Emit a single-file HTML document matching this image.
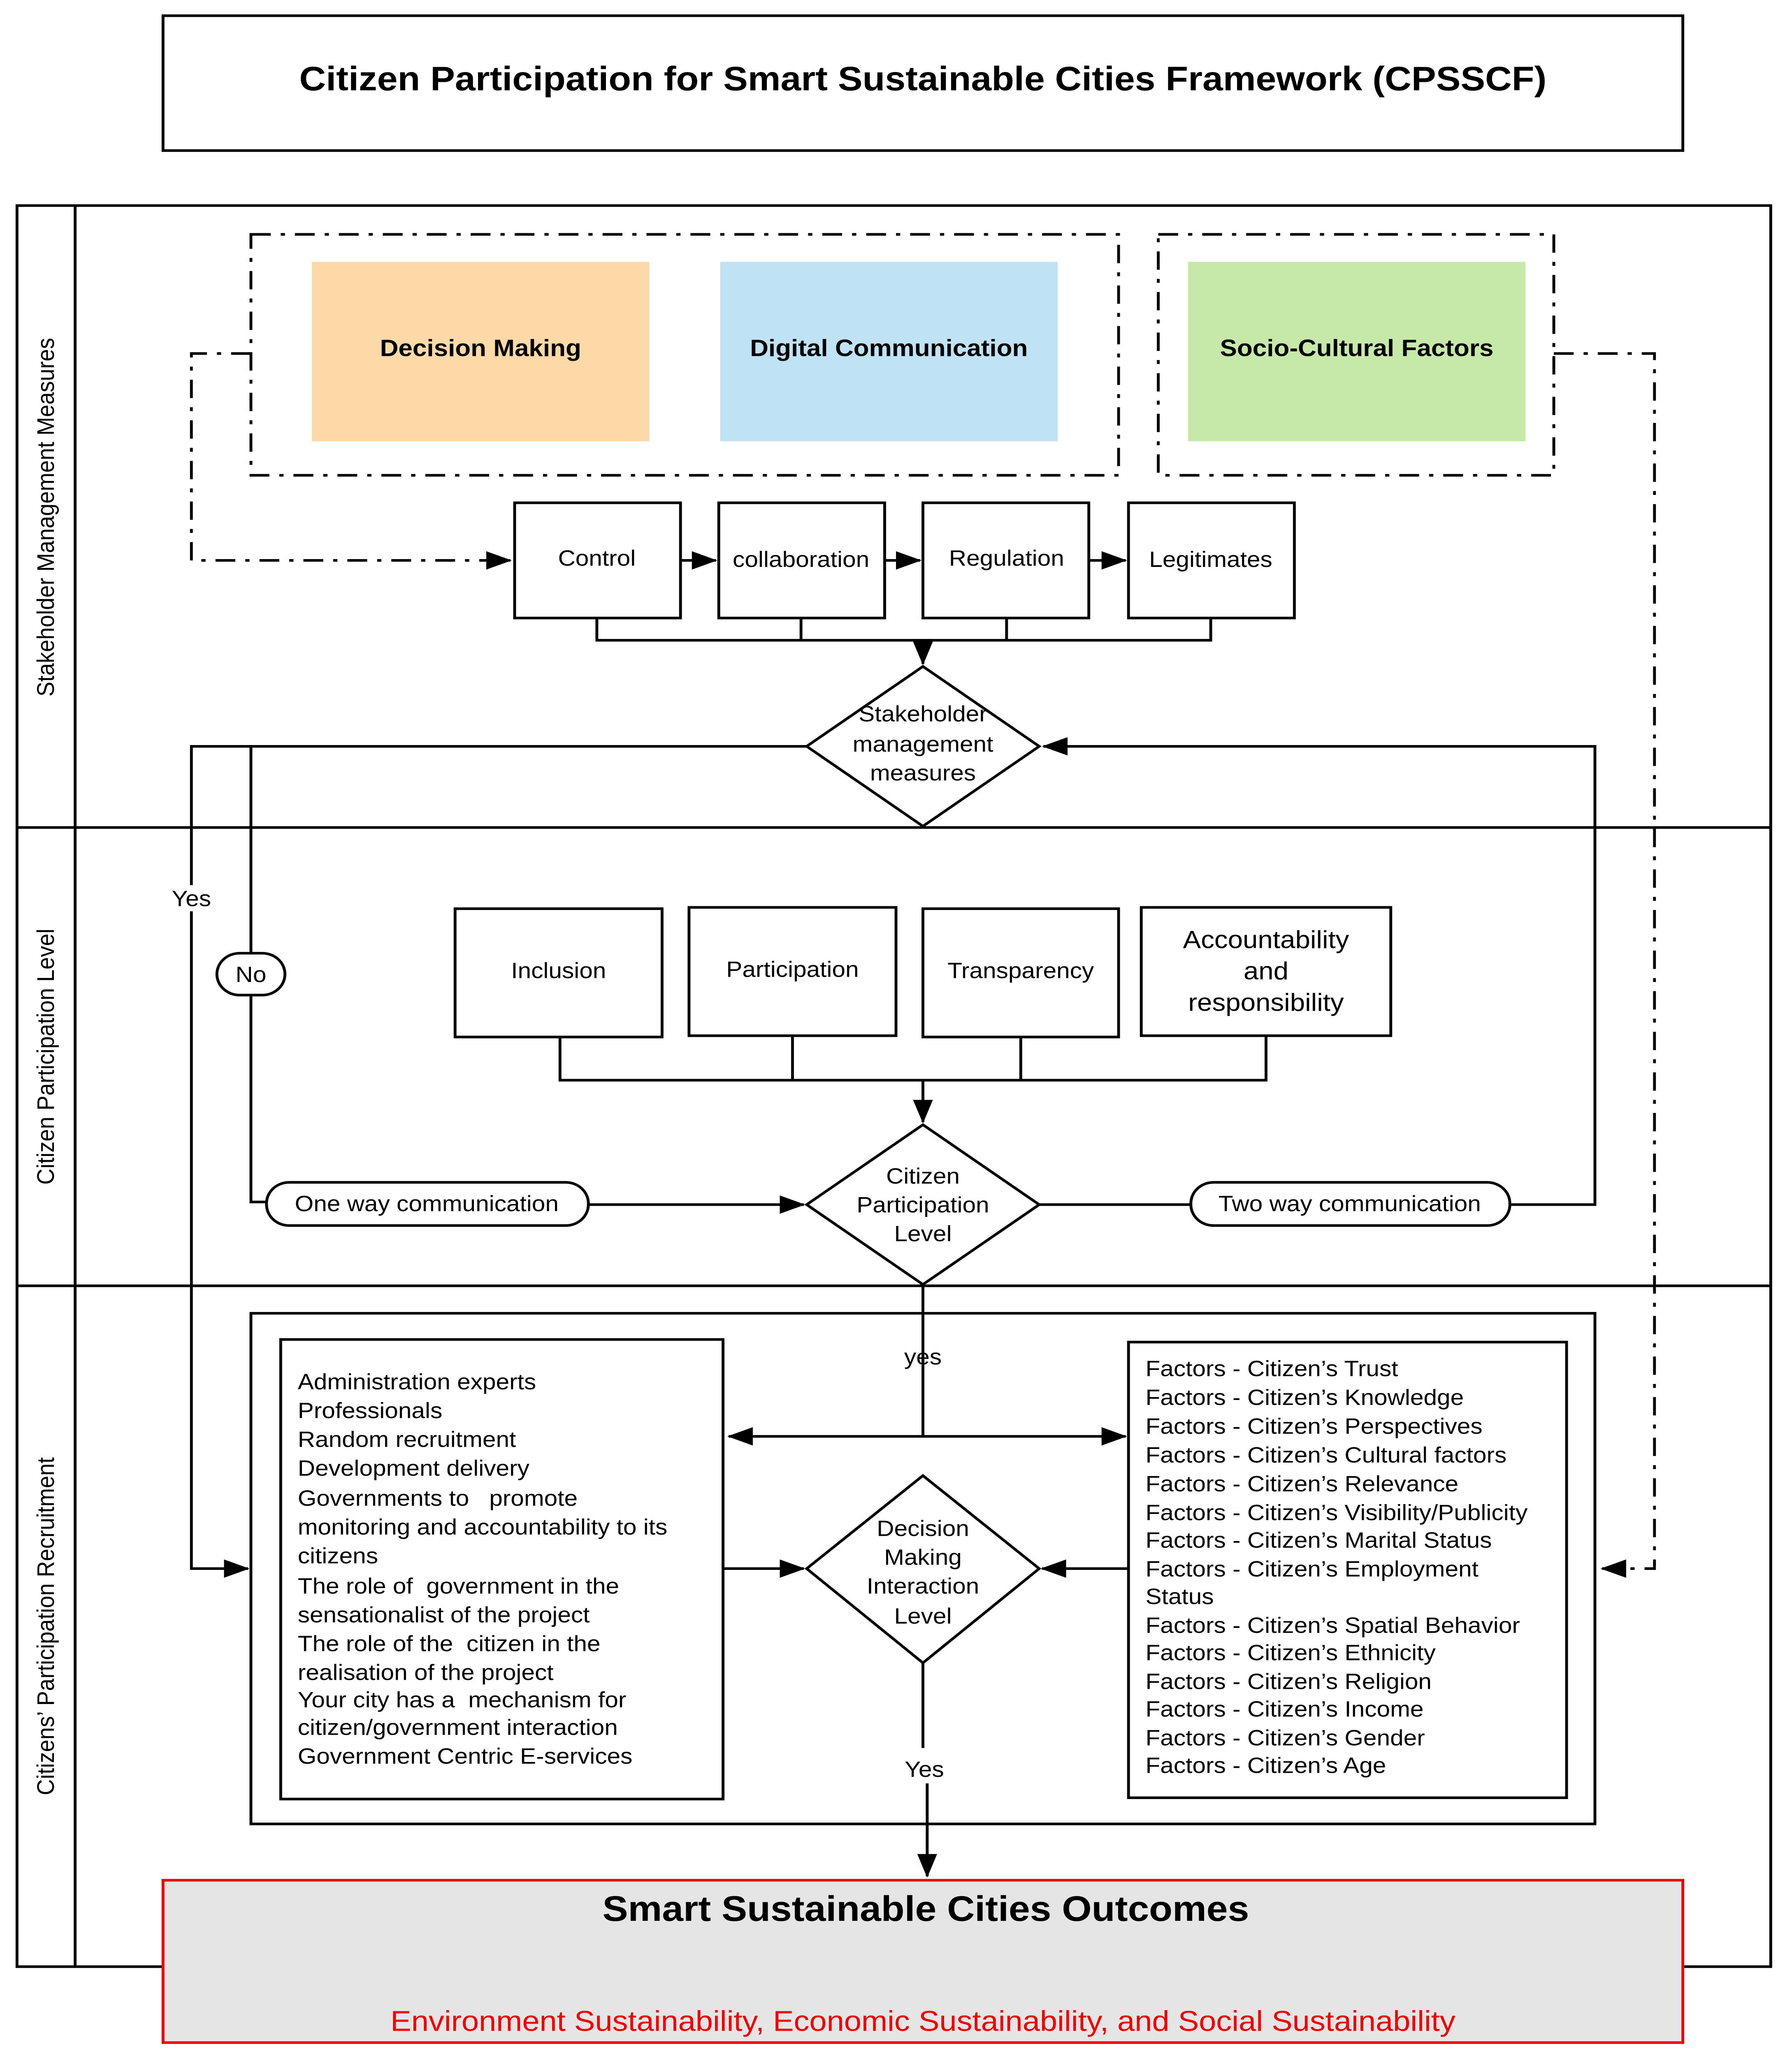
<!DOCTYPE html>
<html><head><meta charset="utf-8"><style>
html,body{margin:0;padding:0;background:#fff;width:100%;height:100%;overflow:hidden;}
svg{display:block;position:absolute;left:0;top:0;width:100vw;height:100vh;}
text{font-family:"Liberation Sans",sans-serif;fill:#000;}
</style></head><body>
<svg viewBox="0 0 1264 1571" preserveAspectRatio="none" xmlns="http://www.w3.org/2000/svg">
<defs>
<marker id="b" markerWidth="18" markerHeight="14" refX="17" refY="7" orient="auto" markerUnits="userSpaceOnUse" viewBox="0 0 18 14">
<path d="M0,0 L18,7 L0,14 z" fill="#000"/></marker>
</defs>
<rect width="1264" height="1571" fill="#fff"/>
<rect x="115" y="12" width="1072" height="103" fill="none" stroke="#000" stroke-width="2"/>
<text x="651" y="69" font-size="26" font-weight="bold" text-anchor="middle">Citizen Participation for Smart Sustainable Cities Framework (CPSSCF)</text>
<rect x="12" y="157" width="1237" height="1345" fill="none" stroke="#000" stroke-width="2"/>
<line x1="53" y1="157" x2="53" y2="1502" stroke="#000" stroke-width="2"/>
<line x1="12" y1="632" x2="1249" y2="632" stroke="#000" stroke-width="2"/>
<line x1="12" y1="982" x2="1249" y2="982" stroke="#000" stroke-width="2"/>
<text transform="translate(38,395) rotate(-90)" font-size="17" text-anchor="middle">Stakeholder Management Measures</text>
<text transform="translate(38,807) rotate(-90)" font-size="17" text-anchor="middle">Citizen Participation Level</text>
<text transform="translate(38,1242) rotate(-90)" font-size="17" text-anchor="middle">Citizens’ Participation Recruitment</text>
<g fill="none" stroke="#000" stroke-width="2" stroke-dasharray="14 7 3 7">
<rect x="177" y="179" width="612" height="184"/>
<rect x="817" y="179" width="279" height="184"/>
<polyline points="177,270 135,270 135,428 360,428" marker-end="url(#b)"/>
<polyline points="1096,270 1167,270 1167,1198 1130,1198" marker-end="url(#b)"/>
</g>
<rect x="220" y="200" width="238" height="137" fill="#fdd9a8"/>
<rect x="508" y="200" width="238" height="137" fill="#c0e2f5"/>
<rect x="838" y="200" width="238" height="137" fill="#c6e8a8"/>
<text x="339" y="272" font-size="18" font-weight="bold" text-anchor="middle">Decision Making</text>
<text x="627" y="272" font-size="18" font-weight="bold" text-anchor="middle">Digital Communication</text>
<text x="957" y="272" font-size="18" font-weight="bold" text-anchor="middle">Socio-Cultural Factors</text>
<g fill="#fff" stroke="#000" stroke-width="2">
<rect x="363" y="384" width="117" height="88"/>
<rect x="507" y="384" width="117" height="88"/>
<rect x="651" y="384" width="117" height="88"/>
<rect x="796" y="384" width="117" height="88"/>
</g>
<g font-size="17" text-anchor="middle">
<text x="421" y="432">Control</text>
<text x="565" y="433">collaboration</text>
<text x="710" y="432">Regulation</text>
<text x="854" y="433">Legitimates</text>
</g>
<g fill="none" stroke="#000" stroke-width="2">
<line x1="480" y1="428" x2="505" y2="428" marker-end="url(#b)"/>
<line x1="624" y1="428" x2="649" y2="428" marker-end="url(#b)"/>
<line x1="768" y1="428" x2="794" y2="428" marker-end="url(#b)"/>
<polyline points="421,472 421,489 854,489 854,472"/>
<line x1="565" y1="472" x2="565" y2="489"/>
<line x1="710" y1="472" x2="710" y2="489"/>
<line x1="651" y1="489" x2="651" y2="507" marker-end="url(#b)"/>
<polygon points="651,509 733,570 651,631 569,570" fill="#fff"/>
<polyline points="569,570 135,570 135,1198 175,1198" marker-end="url(#b)"/>
<polyline points="177,570 177,918 190,918"/>
<line x1="415" y1="920" x2="567" y2="920" marker-end="url(#b)"/>
<polyline points="1065,920 1125,920 1125,570 736,570" marker-end="url(#b)"/>
<line x1="733" y1="920" x2="840" y2="920"/>
</g>
<g font-size="17" text-anchor="middle">
<text x="651" y="551">Stakeholder</text>
<text x="651" y="574">management</text>
<text x="651" y="596">measures</text>
</g>
<rect x="118" y="676" width="34" height="20" fill="#fff"/>
<text x="135" y="692" font-size="17" text-anchor="middle">Yes</text>
<rect x="153" y="728" width="48" height="32" rx="16" fill="#fff" stroke="#000" stroke-width="2"/>
<text x="177" y="750" font-size="17" text-anchor="middle">No</text>
<rect x="188" y="903" width="227" height="33" rx="16" fill="#fff" stroke="#000" stroke-width="2"/>
<text x="301" y="925" font-size="17" text-anchor="middle">One way communication</text>
<rect x="840" y="903" width="225" height="33" rx="16" fill="#fff" stroke="#000" stroke-width="2"/>
<text x="952" y="925" font-size="17" text-anchor="middle">Two way communication</text>
<g fill="#fff" stroke="#000" stroke-width="2">
<rect x="321" y="694" width="146" height="98"/>
<rect x="486" y="693" width="146" height="98"/>
<rect x="651" y="694" width="138" height="98"/>
<rect x="805" y="693" width="176" height="98"/>
</g>
<g font-size="17" text-anchor="middle">
<text x="394" y="747">Inclusion</text>
<text x="559" y="746">Participation</text>
<text x="720" y="747">Transparency</text>
<text x="893" y="724" font-size="19">Accountability</text>
<text x="893" y="748" font-size="19">and</text>
<text x="893" y="772" font-size="19">responsibility</text>
</g>
<g fill="none" stroke="#000" stroke-width="2">
<polyline points="395,792 395,825 893,825 893,791"/>
<line x1="559" y1="791" x2="559" y2="825"/>
<line x1="720" y1="792" x2="720" y2="825"/>
<line x1="651" y1="825" x2="651" y2="857" marker-end="url(#b)"/>
<polygon points="651,859 733,920 651,981 569,920" fill="#fff"/>
<rect x="177" y="1003" width="948" height="390"/>
<line x1="651" y1="981" x2="651" y2="1097"/>
<line x1="651" y1="1097" x2="514" y2="1097" marker-end="url(#b)"/>
<line x1="651" y1="1097" x2="794" y2="1097" marker-end="url(#b)"/>
<rect x="198" y="1023" width="312" height="351" fill="#fff"/>
<rect x="796" y="1025" width="309" height="348" fill="#fff"/>
<polygon points="651,1127 733,1198 651,1270 569,1198" fill="#fff"/>
<line x1="510" y1="1198" x2="567" y2="1198" marker-end="url(#b)"/>
<line x1="796" y1="1198" x2="735" y2="1198" marker-end="url(#b)"/>
<polyline points="651,1270 651,1335"/>
<polyline points="654,1362 654,1433" marker-end="url(#b)"/>
</g>
<g font-size="17" text-anchor="middle">
<text x="651" y="904">Citizen</text>
<text x="651" y="926">Participation</text>
<text x="651" y="948">Level</text>
<text x="651" y="1042">yes</text>
<text x="651" y="1173">Decision</text>
<text x="651" y="1195">Making</text>
<text x="651" y="1217">Interaction</text>
<text x="651" y="1240">Level</text>
<text x="652" y="1357">Yes</text>
</g>
<g font-size="17">
<text x="210" y="1061">Administration experts</text>
<text x="210" y="1083">Professionals</text>
<text x="210" y="1105">Random recruitment</text>
<text x="210" y="1127">Development delivery</text>
<text x="210" y="1150">Governments to&#160;&#160; promote</text>
<text x="210" y="1172">monitoring and accountability to its</text>
<text x="210" y="1194">citizens</text>
<text x="210" y="1217">The role of&#160; government in the</text>
<text x="210" y="1239">sensationalist of the project</text>
<text x="210" y="1261">The role of the&#160; citizen in the</text>
<text x="210" y="1283">realisation of the project</text>
<text x="210" y="1304">Your city has a&#160; mechanism for</text>
<text x="210" y="1325">citizen/government interaction</text>
<text x="210" y="1347">Government Centric E-services</text>
</g>
<g font-size="17">
<text x="808" y="1051">Factors - Citizen’s Trust</text>
<text x="808" y="1073">Factors - Citizen’s Knowledge</text>
<text x="808" y="1095">Factors - Citizen’s Perspectives</text>
<text x="808" y="1117">Factors - Citizen’s Cultural factors</text>
<text x="808" y="1139">Factors - Citizen’s Relevance</text>
<text x="808" y="1161">Factors - Citizen’s Visibility/Publicity</text>
<text x="808" y="1182">Factors - Citizen’s Marital Status</text>
<text x="808" y="1204">Factors - Citizen’s Employment</text>
<text x="808" y="1225">Status</text>
<text x="808" y="1247">Factors - Citizen’s Spatial Behavior</text>
<text x="808" y="1268">Factors - Citizen’s Ethnicity</text>
<text x="808" y="1290">Factors - Citizen’s Religion</text>
<text x="808" y="1311">Factors - Citizen’s Income</text>
<text x="808" y="1333">Factors - Citizen’s Gender</text>
<text x="808" y="1354">Factors - Citizen’s Age</text>
</g>
<rect x="115" y="1436" width="1072" height="124" fill="#e5e5e5" stroke="#e00" stroke-width="2"/>
<text x="653" y="1467" font-size="27" font-weight="bold" text-anchor="middle">Smart Sustainable Cities Outcomes</text>
<text x="651" y="1551" font-size="22" text-anchor="middle" style="fill:#e00">Environment Sustainability, Economic Sustainability, and Social Sustainability</text>
</svg>
</body></html>
